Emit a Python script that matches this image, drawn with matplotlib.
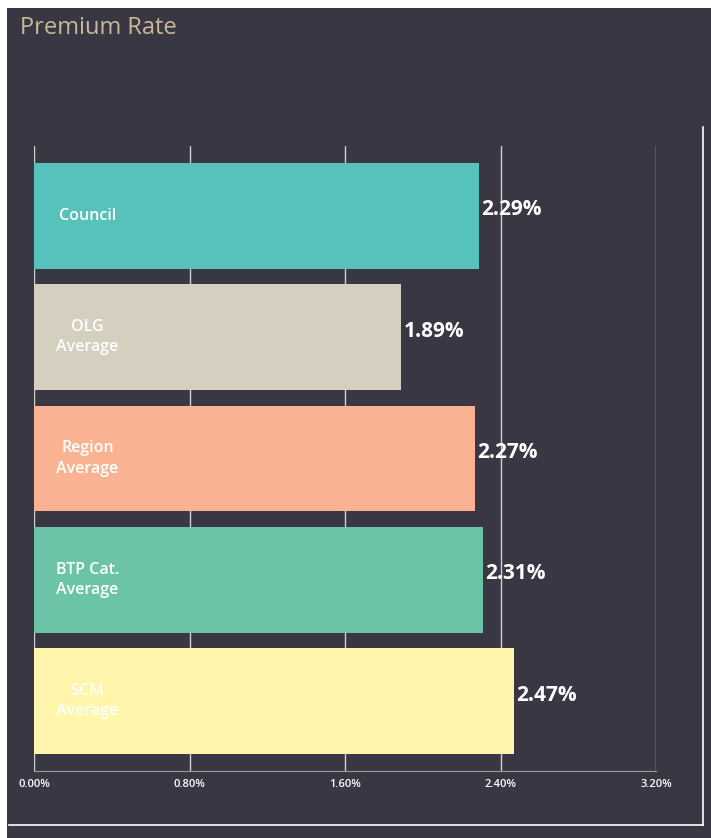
import matplotlib
matplotlib.use("Agg")
import matplotlib.pyplot as plt
from matplotlib.patches import Rectangle
from matplotlib.lines import Line2D

categories = ["Council", "OLG\nAverage", "Region\nAverage", "BTP Cat.\nAverage", "SCM\nAverage"]
values = [2.29, 1.89, 2.27, 2.31, 2.47]
colors = ["#57c1bc", "#d5cfc0", "#f9b393", "#6bc4a5", "#fff5ab"]
xticks = [0.0, 0.8, 1.6, 2.4, 3.2]
xtick_labels = ["0.00%", "0.80%", "1.60%", "2.40%", "3.20%"]

BG = "#3a3744"
W, H = 711, 838
fig = plt.figure(figsize=(W / 100, H / 100), dpi=100)
fig.patch.set_facecolor("white")

# dark panel
fig.patches.append(Rectangle((7 / W, 0), 1 - 7 / W, 1 - 8 / H, transform=fig.transFigure,
                             facecolor=BG, edgecolor="none", zorder=-5))
# white frame lines (right and bottom)
fig.lines.append(Line2D([703 / W, 703 / W], [1 - 127 / H, 1 - 825 / H], transform=fig.transFigure,
                        color="white", lw=1.2, zorder=-4))
fig.lines.append(Line2D([9 / W, 703 / W], [1 - 825 / H, 1 - 825 / H], transform=fig.transFigure,
                        color="white", lw=1.2, zorder=-4))

fig.text(20 / W, 1 - 28 / H, "Premium Rate", color="#c9b99a", fontsize=17,
         family="Open Sans", va="center", ha="left")

ax = fig.add_axes([34 / W, 1 - 771 / H, (656 - 34) / W, (771 - 146) / H])
ax.set_facecolor("none")
ax.set_zorder(1)
y = list(range(len(categories)))
ax.barh(y, values, height=0.87, color=colors, zorder=2)
ax.set_xlim(0, 3.2)
ax.set_ylim(len(categories) - 0.425, -0.575)

for xv in xticks:
    ax.axvline(xv, color="#d0d0d0", lw=1, zorder=1)
for s in ["top", "right", "left"]:
    ax.spines[s].set_visible(False)
ax.spines["bottom"].set_color("#9a9a9a")
ax.set_xticks(xticks)
ax.set_xticklabels(xtick_labels, color="white", fontsize=8, family="Open Sans",
                   fontweight="semibold")
ax.tick_params(axis="x", length=0, pad=6)
ax.set_yticks([])

for i, (cat, v) in enumerate(zip(categories, values)):
    ax.text(0.275, i, cat, color="white", fontsize=11.5, fontweight="semibold",
            family="Open Sans", ha="center", va="center", linespacing=1.35, zorder=3)
    ax.text(v + 0.01, i - 0.05, f"{v:.2f}%", color="white", fontsize=15, fontweight="bold",
            family="Open Sans", ha="left", va="center", zorder=3)

fig.savefig("out.png", dpi=100, facecolor=fig.get_facecolor())
